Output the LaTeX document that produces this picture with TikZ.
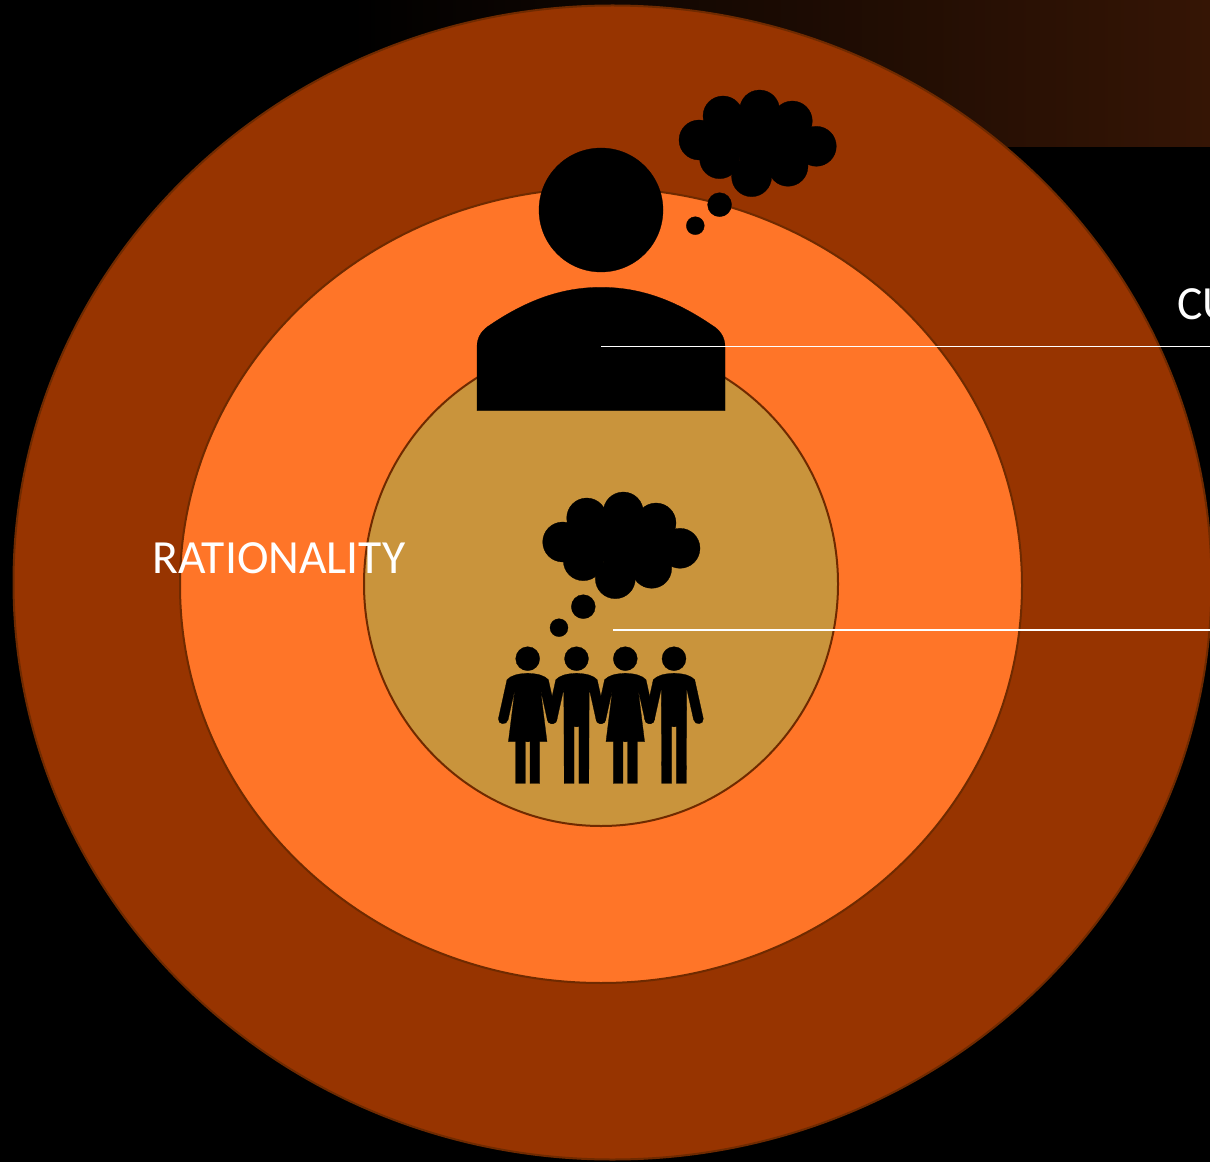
\documentclass[tikz,border=0pt]{standalone}
\usepackage{fontspec}
\setmainfont{Carlito}
\usetikzlibrary{positioning}
\definecolor{ringedge}{HTML}{6F2A00}
\definecolor{ringouter}{HTML}{973400}
\definecolor{ringmiddle}{HTML}{FF7528}
\definecolor{ringinner}{HTML}{C9943C}
\definecolor{bandright}{HTML}{351505}

\begin{document}
\begin{tikzpicture}[
  x=0.75pt,y=-0.75pt,
  ring/.style={draw=ringedge,line width=1.5pt},
  blob/.style={fill=black,draw=black,line width=0.2pt},
  lead/.style={draw=white,line width=0.8pt},
  lbl/.style={text=white,font=\fontsize{35.7}{36}\selectfont,anchor=base west,inner sep=0pt},
  cloud/.pic={
    \foreach \cx/\cy in {0/0,24/-24,60.6/-30,93.3/-19,117.3/6.3,89/26.3,52.6/36.7,20.6/18.7,30/0,60/0,85/0,60/15,42/-14,76/-14}
      \fill[blob] (\cx,\cy) circle[radius=20];
    \fill[blob] (20.6,64.7) circle[radius=12];
    \fill[blob] (-3.7,85.7) circle[radius=9];
  },
  womanfig/.pic={
    \fill[blob] (0,0) circle[radius=12];
    \foreach \s in {-1,1}
      \fill[blob,xscale=\s] (-1,14.7) -- (0,14.7) .. controls (10,14.7) and (17,17) .. (20.7,21)
        -- (29.3,60) .. controls (30,66) and (21,67) .. (19.6,61) -- (12.7,30)
        -- (19.3,83) -- (12,83) -- (12,124.7) -- (2.4,124.7) -- (2.4,83) -- (-1,83) -- cycle;
  },
  manfig/.pic={
    \fill[blob] (0,0) circle[radius=12];
    \foreach \s in {-1,1}
      \fill[blob,xscale=\s] (-1,14.7) -- (0,14.7) .. controls (10,14.7) and (17,17) .. (20.7,21)
        -- (29.3,60) .. controls (30,66) and (21,67) .. (19.6,61) -- (12.7,30)
        -- (12.3,124.7) -- (2.4,124.7) -- (2.4,68) -- (-1,68) -- cycle;
  }
]
\useasboundingbox (0,0) rectangle (1210,1162);
\fill[black] (0,0) rectangle (1210,1162);
\shade[left color=black,right color=bandright] (350,0) rectangle (1210,147);

% rings
\draw[ring,fill=ringouter]  (612.5,582.5) ellipse [x radius=599,y radius=577];
\draw[ring,fill=ringmiddle] (601,585.5) ellipse [x radius=421,y radius=397.5];
\draw[ring,fill=ringinner]  (601,584) ellipse [x radius=237,y radius=242];

% individual
\fill[blob] (601,210) circle[radius=62];
\fill[blob] (477,410.7) -- (477,346.7) .. controls (477,337) and (482,330) .. (490,325)
  .. controls (530,298) and (565,287.3) .. (601,287.3)
  .. controls (637,287.3) and (672,298) .. (711.7,325)
  .. controls (720,330) and (725,337) .. (725,346.7) -- (725,410.7) -- cycle;
\pic at (699,140) {cloud};

% group
\pic at (562.7,542) {cloud};
\pic at (527.7,658.7) {womanfig};
\pic at (576.5,658.7) {manfig};
\pic at (625.3,658.7) {womanfig};
\pic at (674,658.7) {manfig};

% leader lines
\coordinate (indiv) at (601,346.5);
\coordinate (indivend) at (1210,346.5);
\coordinate (grp) at (613,630);
\coordinate (grpend) at (1210,630);
\draw[lead] (indiv) -- (indivend);
\draw[lead] (grp) -- (grpend);

\node[lbl] (rationality) at (152,573) {RATIONALITY};
\node[lbl] (cu) at (1177,320) {CU};
\end{tikzpicture}
\end{document}
